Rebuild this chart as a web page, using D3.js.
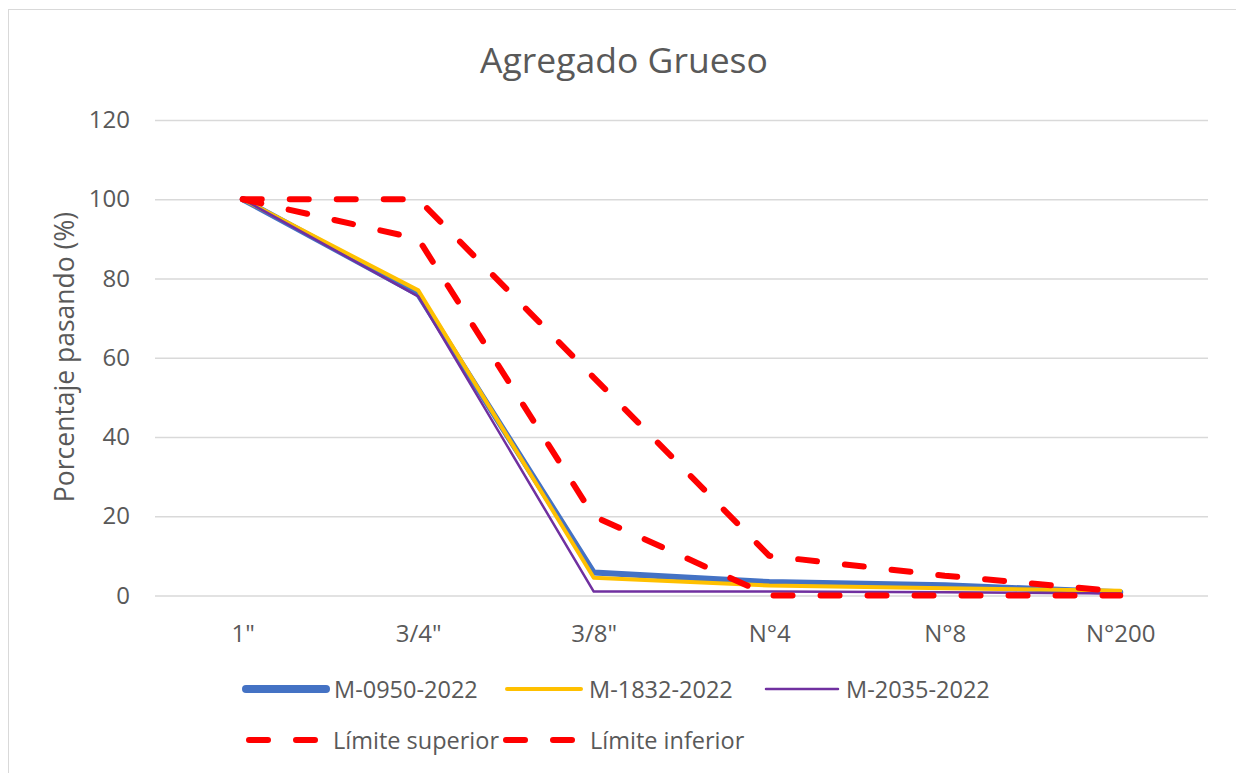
<!DOCTYPE html>
<html>
<head>
<meta charset="utf-8">
<script src="https://cdn.jsdelivr.net/npm/d3@7"></script>
<style>
  html, body { margin: 0; padding: 0; background: #ffffff; }
  svg { display: block; }
  text { font-family: "Open Sans", "Liberation Sans", sans-serif; fill: #595959; }
</style>
</head>
<body>
<svg id="chart" width="1236" height="773"></svg>
<script>
const categories = ['1"', '3/4"', '3/8"', 'N°4', 'N°8', 'N°200'];
const m0950 = [100, 76, 5.8, 3.4, 2.6, 0.8];
const m1832 = [100, 77, 4.5, 2.5, 1.8, 1.2];
const m2035 = [100, 75.5, 1.0, 1.0, 0.8, 0.5];
const limSup = [100, 100, 55, 10, 5, 1];
const limInf = [100, 90, 20, 0, 0, 0];
const yTicks = [0, 20, 40, 60, 80, 100, 120];
const seriesNames = ["M-0950-2022", "M-1832-2022", "M-2035-2022", "Límite superior", "Límite inferior"];

const series = [
  { name: seriesNames[0], values: m0950, color: "#4472c4", width: 6, dash: null },
  { name: seriesNames[1], values: m1832, color: "#ffc000", width: 4, dash: null },
  { name: seriesNames[2], values: m2035, color: "#7030a0", width: 2.5, dash: null },
  { name: seriesNames[3], values: limSup, color: "#ff0000", width: 6, dash: "19,28" },
  { name: seriesNames[4], values: limInf, color: "#ff0000", width: 6, dash: "19,28" }
];

const svg = d3.select("#chart");

// outer chart border
svg.append("rect").attr("x", 8.5).attr("y", 9.5).attr("width", 1240).attr("height", 780)
  .attr("fill", "#ffffff").attr("stroke", "#d9d9d9").attr("stroke-width", 1);

const left = 155, right = 1208;
const x = d3.scalePoint().domain(categories).range([left, right]).padding(0.5);
const y = d3.scaleLinear().domain([0, 120]).range([595.5, 120]);

// gridlines + y tick labels
const yAxis = d3.axisLeft(y).tickValues(yTicks).tickSize(-(right - left)).tickPadding(25);
const gy = svg.append("g").attr("transform", `translate(${left},0)`).call(yAxis);
gy.select(".domain").remove();
gy.selectAll(".tick line").attr("stroke", "#d9d9d9").attr("stroke-width", 1.5);
gy.selectAll(".tick text").style("font-size", "24px").attr("fill", "#595959")
  .style("font-family", "'Open Sans', sans-serif");

// x axis labels
const xAxis = d3.axisBottom(x).tickSize(0).tickPadding(0);
const gx = svg.append("g").attr("transform", `translate(0,625)`).call(xAxis);
gx.select(".domain").remove();
gx.selectAll(".tick text").style("font-size", "24px").attr("fill", "#595959")
  .style("font-family", "'Open Sans', sans-serif");

// lines
const line = d3.line().x((d, i) => x(categories[i])).y(d => y(d));
series.forEach(s => {
  const p = svg.append("path").datum(s.values)
    .attr("d", line)
    .attr("fill", "none")
    .attr("stroke", s.color)
    .attr("stroke-width", s.width)
    .attr("stroke-linejoin", "round")
    .attr("stroke-linecap", "round");
  if (s.dash) p.attr("stroke-dasharray", s.dash);
});

// title
svg.append("text").attr("x", 624).attr("y", 73).attr("text-anchor", "middle")
  .style("font-size", "35.5px").text("Agregado Grueso");

// y axis title
svg.append("text").attr("transform", "translate(74,357) rotate(-90)")
  .attr("text-anchor", "middle").style("font-size", "26.5px").text("Porcentaje pasando (%)");

// legend
const legendPos = [
  { x: 246, y: 689, len: 80 },
  { x: 507, y: 689, len: 74 },
  { x: 766, y: 689, len: 72 },
  { x: 249, y: 740, len: 70 },
  { x: 506, y: 740, len: 70 }
];
series.forEach((s, i) => {
  const lp = legendPos[i];
  const g = svg.append("g");
  const ln = g.append("line").attr("x1", lp.x).attr("x2", lp.x + lp.len)
    .attr("y1", lp.y).attr("y2", lp.y)
    .attr("stroke", s.color)
    .attr("stroke-width", i === 0 ? 8 : s.width)
    .attr("stroke-linecap", "round");
  if (s.dash) ln.attr("stroke-dasharray", "19,28");
  g.append("text").attr("x", lp.x + lp.len + (s.dash ? 14 : 8)).attr("y", lp.y + 9)
    .style("font-size", "23.5px").text(s.name);
});
</script>
</body>
</html>
